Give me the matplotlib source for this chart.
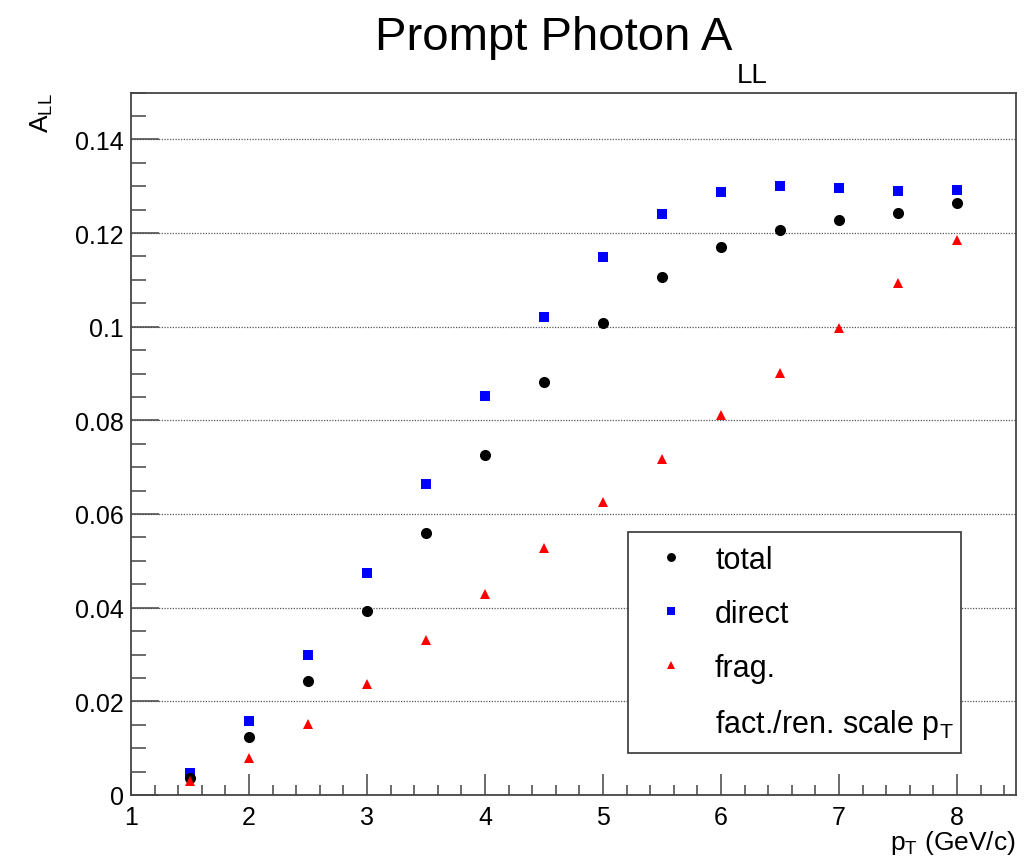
import matplotlib
matplotlib.use("Agg")
import matplotlib.pyplot as plt
from matplotlib.ticker import MultipleLocator, FuncFormatter

# data
pt = [1.5, 2.0, 2.5, 3.0, 3.5, 4.0, 4.5, 5.0, 5.5, 6.0, 6.5, 7.0, 7.5, 8.0]
total = [0.0037, 0.0123, 0.0244, 0.0393, 0.0560, 0.0727, 0.0881, 0.1008,
         0.1107, 0.1171, 0.1206, 0.1228, 0.1243, 0.1265]
direct = [0.0048, 0.0157, 0.0300, 0.0474, 0.0664, 0.0851, 0.1020, 0.1149,
          0.1240, 0.1287, 0.1300, 0.1297, 0.1290, 0.1292]
frag = [0.0030, 0.0080, 0.0151, 0.0236, 0.0330, 0.0430, 0.0528, 0.0625,
        0.0717, 0.0811, 0.0901, 0.0997, 0.1094, 0.1184]
xticks = [1, 2, 3, 4, 5, 6, 7, 8]
yticks = [0, 0.02, 0.04, 0.06, 0.08, 0.10, 0.12, 0.14]

plt.rcParams.update({
    'font.family': ['Liberation Sans', 'DejaVu Sans'],
    'mathtext.fontset': 'custom',
    'mathtext.rm': 'Liberation Sans',
    'mathtext.it': 'Liberation Sans:italic',
    'text.color': 'black',
    'axes.edgecolor': '#444444',
})

fig = plt.figure(figsize=(10.31, 8.62), dpi=100)
ax = fig.add_axes([131 / 1031, 1 - 796 / 862, 885 / 1031, 702.5 / 862])

ax.plot(pt, total, ls='none', marker='o', ms=8, mew=0, color='black', label='total', zorder=3)
ax.plot(pt, direct, ls='none', marker='s', ms=7, mew=0, color='#0000ff', label='direct', zorder=2)
ax.plot(pt, frag, ls='none', marker='^', ms=7, mew=0, color='#ff0000', label='frag.', zorder=4)
ax.plot([], [], ls='none', marker='none', label=r'fact./ren. scale $\mathregular{p_{T}}$')

ax.set_xlim(1, 8.5)
ax.set_ylim(0, 0.15)
ax.set_xticks(xticks)
ax.set_yticks(yticks)
ax.xaxis.set_minor_locator(MultipleLocator(0.2))
ax.yaxis.set_minor_locator(MultipleLocator(0.005))
ax.yaxis.set_major_formatter(FuncFormatter(lambda v, p: '0' if v == 0 else f'{v:g}'))

ax.tick_params(axis='both', which='both', direction='in', colors='#444444',
               labelcolor='black', labelsize=18, width=1.1)
ax.tick_params(axis='x', which='major', length=15, pad=7)
ax.tick_params(axis='x', which='minor', length=7.5)
ax.tick_params(axis='y', which='major', length=20, pad=5)
ax.tick_params(axis='y', which='minor', length=10.5)
for s in ax.spines.values():
    s.set_linewidth(1.3)

ax.yaxis.grid(True, which='major', linestyle=(0, (1, 1.2)), color='#555555', linewidth=0.9)
ax.set_axisbelow(True)

ax.set_xlabel(r'$\mathregular{p_{T}}$ (GeV/c)', fontsize=19, loc='right')
ax.xaxis.set_label_coords(1.0, -0.047)
ax.set_ylabel(r'$\mathregular{A_{LL}}$', fontsize=19, loc='top')
ax.yaxis.set_label_coords(-0.086, 1.0)

# title, ROOT-style with a dropped subscript
fig.text(732 / 1031, 1 - 50 / 862, 'Prompt Photon A', fontsize=34, ha='right', va='baseline')
fig.text(737 / 1031, 1 - 83 / 862, 'LL', fontsize=20, ha='left', va='baseline')

leg = ax.legend(loc='upper left', bbox_to_anchor=(0.5616, 0.0623, 0.3764, 0.3117),
                mode='expand', borderaxespad=0, fontsize=22, frameon=True, fancybox=False,
                edgecolor='#444444', framealpha=1, handlelength=1.97, handletextpad=0.46,
                borderpad=0.42, labelspacing=0.78, markerscale=0.8)
leg.get_frame().set_linewidth(1.3)

plt.savefig('out.png', dpi=100, facecolor='white')
